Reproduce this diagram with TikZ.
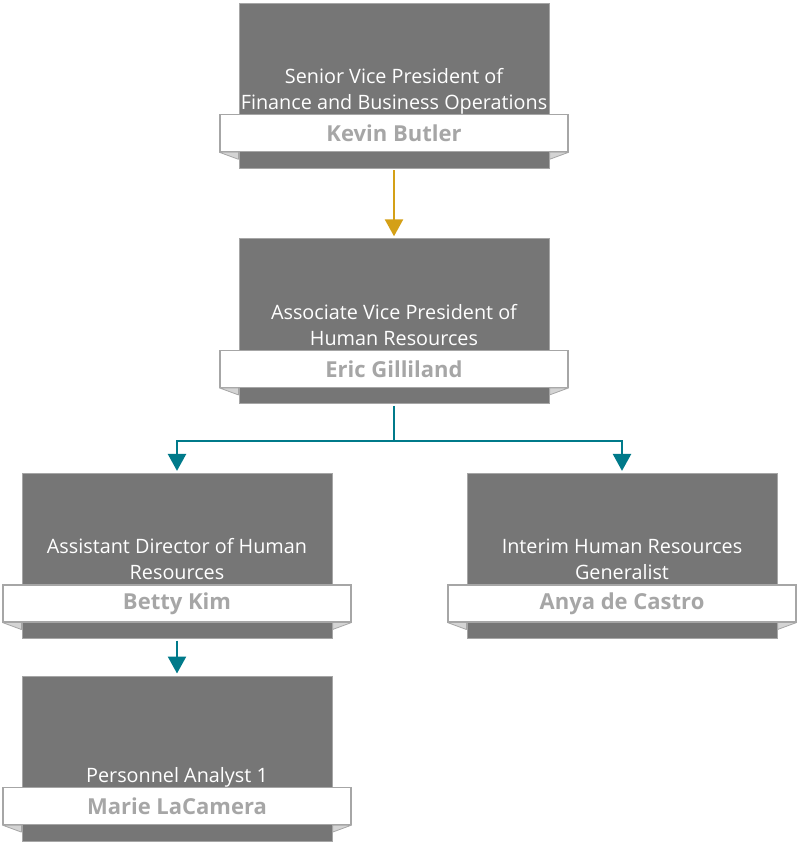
\documentclass[tikz,border=0pt]{standalone}
\usepackage{fontspec}
\setmainfont{Open Sans}
\usetikzlibrary{arrows.meta, positioning}
\definecolor{boksgrau}{HTML}{767676}
\definecolor{navngrau}{HTML}{A6A6A6}
\definecolor{fliggrau}{HTML}{D4D4D4}
\definecolor{gull}{HTML}{D4A017}
\definecolor{petrol}{HTML}{007A8A}

\begin{document}
\begin{tikzpicture}[
    x=1pt, y=1pt,
    boks/.style = {rectangle, fill=boksgrau, draw=gray!70, line width=0.6pt,
                   minimum width=310pt, minimum height=165pt, inner sep=0pt},
    banner/.style = {rectangle, fill=white, draw=navngrau, line width=1.2pt,
                     minimum width=348pt, minimum height=37pt, inner sep=0pt,
                     text=navngrau, font=\fontsize{22}{24}\selectfont\bfseries},
    titel/.style = {align=center, text=white, inner sep=0pt, text depth=4.5pt,
                    font=\fontsize{19.8}{26}\selectfont},
    flig/.style = {fill=fliggrau, draw=navngrau, line width=0.8pt, line join=round},
    pil/.style = {line width=2.5pt, -{Triangle[width=18pt, length=17pt]},
                  shorten >=2pt, shorten <=2pt}
    ]
  \useasboundingbox (0,0) rectangle (798,-842);

  \node[boks] (b1) at (394,-85.5) {};
  \node[boks] (b2) [below=70pt of b1] {};
  \node[boks] (b3) [below=69pt of b2, xshift=-217pt] {};
  \node[boks] (b4) [below=69pt of b2, xshift=228pt] {};
  \node[boks] (b5) [below=37pt of b3] {};

  \node[banner] (k1) [above=16pt of b1.south] {Kevin Butler};
  \node[banner] (k2) [above=16pt of b2.south] {Eric Gilliland};
  \node[banner] (k3) [above=16pt of b3.south] {Betty Kim};
  \node[banner] (k4) [above=16pt of b4.south] {Anya de Castro};
  \node[banner] (k5) [above=16pt of b5.south] {Marie LaCamera};

  \node[titel] (t1) [above=0pt of k1] {Senior Vice President of\\Finance and Business Operations};
  \node[titel] (t2) [above=0pt of k2] {Associate Vice President of\\Human Resources};
  \node[titel] (t3) [above=0pt of k3] {Assistant Director of Human\\Resources};
  \node[titel] (t4) [above=0pt of k4] {Interim Human Resources\\Generalist};
  \node[titel] (t5) [above=0pt of k5] {Personnel Analyst 1};

  % umbrettede hjorner under navnefeltet
  \foreach \i in {1,...,5} {
    \draw[flig] (k\i.south west) -- ++(19,0) -- ++(0,-7) -- cycle;
    \draw[flig] (k\i.south east) -- ++(-19,0) -- ++(0,-7) -- cycle;
  }

  \coordinate (split) at ([yshift=-37pt]b2.south);

  \draw[pil, gull] (b1) -- (b2);
  \draw[line width=2.5pt, petrol, shorten <=2pt] (b2.south) -- (split);
  \draw[pil, petrol, shorten <=0pt] (split) -| (b3.north);
  \draw[pil, petrol, shorten <=0pt] (split) -| (b4.north);
  \draw[pil, petrol] (b3) -- (b5);
\end{tikzpicture}
\end{document}
